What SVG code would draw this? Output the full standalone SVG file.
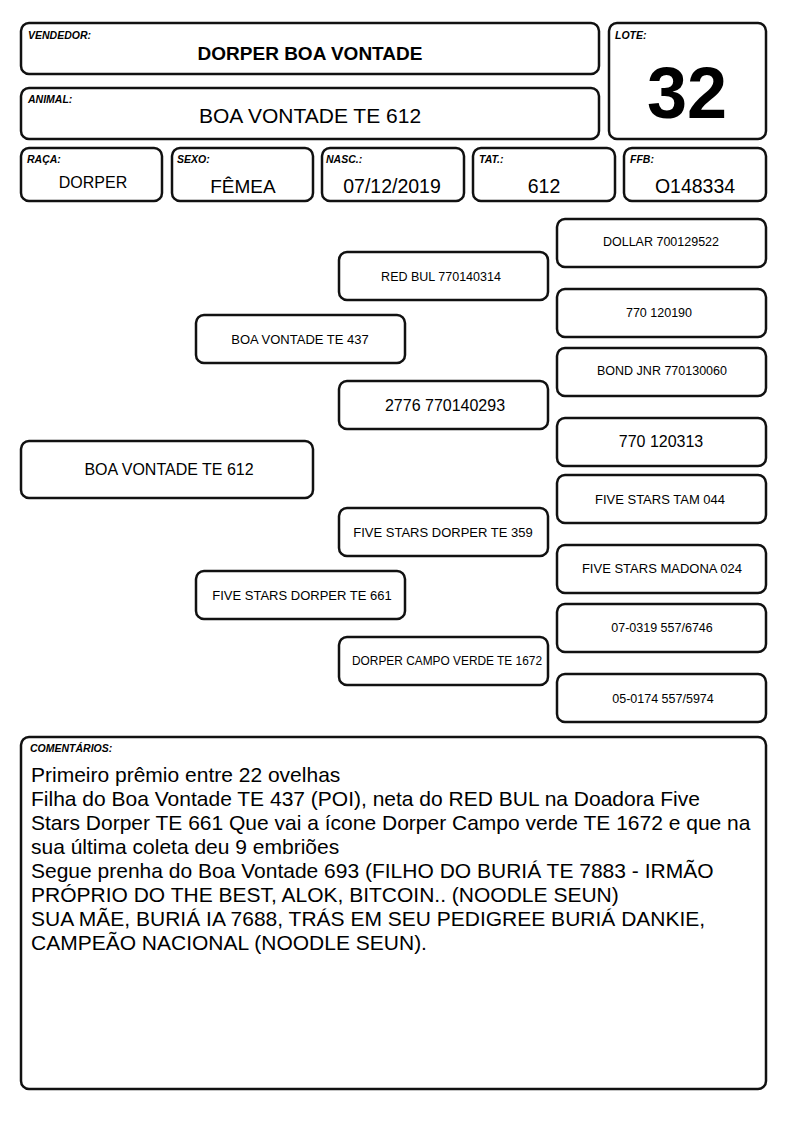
<svg xmlns="http://www.w3.org/2000/svg" width="794" height="1123" viewBox="0 0 794 1123">
<style>
.b{fill:#fff;stroke:#111;stroke-width:2.5}
text{font-family:"Liberation Sans",Arial,sans-serif;fill:#000}
.l{font-size:10.5px;font-weight:bold;font-style:italic}
.c{text-anchor:middle}
.cm{font-size:21px}
</style>
<rect width="794" height="1123" fill="#fff"/>
<g id="vendedor"><rect class="b" x="21" y="23" width="578" height="51" rx="8"/><text class="l" x="28" y="39">VENDEDOR:</text><text class="c" x="310" y="60" font-size="19" font-weight="bold">DORPER BOA VONTADE</text></g>
<g id="animal"><rect class="b" x="21" y="88" width="578" height="51" rx="8"/><text class="l" x="28" y="103">ANIMAL:</text><text class="c" x="310" y="123" font-size="21">BOA VONTADE TE 612</text></g>
<g id="lote"><rect class="b" x="609" y="23" width="157" height="116" rx="8"/><text class="l" x="615" y="39">LOTE:</text><text class="c" x="687" y="118" font-size="72" font-weight="bold">32</text></g>
<g id="raca"><rect class="b" x="21" y="148" width="141" height="53" rx="8"/><text class="l" x="27" y="163">RAÇA:</text><text class="c" x="93" y="188" font-size="16">DORPER</text></g>
<g id="sexo"><rect class="b" x="172" y="148" width="141" height="53" rx="8"/><text class="l" x="177" y="163">SEXO:</text><text class="c" x="243" y="193" font-size="19">FÊMEA</text></g>
<g id="nasc"><rect class="b" x="322" y="148" width="142" height="53" rx="8"/><text class="l" x="326" y="163">NASC.:</text><text class="c" x="392" y="193" font-size="19.5">07/12/2019</text></g>
<g id="tat"><rect class="b" x="473" y="148" width="142" height="53" rx="8"/><text class="l" x="479" y="163">TAT.:</text><text class="c" x="544" y="193" font-size="19.5">612</text></g>
<g id="ffb"><rect class="b" x="624" y="148" width="142" height="53" rx="8"/><text class="l" x="630" y="163">FFB:</text><text class="c" x="695" y="193" font-size="19.5">O148334</text></g>
<g id="connectors"></g>
<g id="n612"><rect class="b" x="21" y="441" width="292" height="57" rx="8"/><text class="c" x="169" y="475" font-size="16">BOA VONTADE TE 612</text></g>
<g id="n437"><rect class="b" x="196" y="315" width="209" height="48" rx="8"/><text class="c" x="300" y="344" font-size="13">BOA VONTADE TE 437</text></g>
<g id="n661"><rect class="b" x="196" y="571" width="209" height="48" rx="8"/><text class="c" x="302" y="600" font-size="13">FIVE STARS DORPER TE 661</text></g>
<g id="nredbul"><rect class="b" x="339" y="252" width="209" height="48" rx="8"/><text class="c" x="441" y="281" font-size="12.5">RED BUL 770140314</text></g>
<g id="n2776"><rect class="b" x="339" y="381" width="209" height="48" rx="8"/><text class="c" x="445" y="411" font-size="16">2776 770140293</text></g>
<g id="n359"><rect class="b" x="339" y="508" width="209" height="48" rx="8"/><text class="c" x="443" y="537" font-size="13">FIVE STARS DORPER TE 359</text></g>
<g id="n1672"><rect class="b" x="339" y="637" width="209" height="48" rx="8"/><text class="c" x="447" y="665" font-size="13" textLength="190" lengthAdjust="spacingAndGlyphs">DORPER CAMPO VERDE TE 1672</text></g>
<g id="ndollar"><rect class="b" x="557" y="219" width="209" height="48" rx="8"/><text class="c" x="661" y="246" font-size="12.5">DOLLAR 700129522</text></g>
<g id="n120190"><rect class="b" x="557" y="289" width="209" height="48" rx="8"/><text class="c" x="659" y="317" font-size="12.5">770 120190</text></g>
<g id="nbond"><rect class="b" x="557" y="348" width="209" height="48" rx="8"/><text class="c" x="662" y="375" font-size="12.5">BOND JNR 770130060</text></g>
<g id="n120313"><rect class="b" x="557" y="418" width="209" height="48" rx="8"/><text class="c" x="661" y="447" font-size="16">770 120313</text></g>
<g id="ntam"><rect class="b" x="557" y="475" width="209" height="48" rx="8"/><text class="c" x="660" y="504" font-size="13">FIVE STARS TAM 044</text></g>
<g id="nmadona"><rect class="b" x="557" y="545" width="209" height="48" rx="8"/><text class="c" x="662" y="573" font-size="13">FIVE STARS MADONA 024</text></g>
<g id="n0319"><rect class="b" x="557" y="604" width="209" height="48" rx="8"/><text class="c" x="662" y="632" font-size="12.5">07-0319 557/6746</text></g>
<g id="n0174"><rect class="b" x="557" y="674" width="209" height="48" rx="8"/><text class="c" x="663" y="703" font-size="12.5">05-0174 557/5974</text></g>
<g id="comentarios"><rect class="b" x="21" y="737" width="745" height="352" rx="8"/><text class="l" x="30" y="752" font-size="11">COMENTÁRIOS:</text>
<text class="cm" x="31" y="782">Primeiro prêmio entre 22 ovelhas</text>
<text class="cm" x="31" y="806">Filha do Boa Vontade TE 437 (POI), neta do RED BUL na Doadora Five</text>
<text class="cm" x="31" y="830">Stars Dorper TE 661 Que vai a ícone Dorper Campo verde TE 1672 e que na</text>
<text class="cm" x="31" y="854">sua última coleta deu 9 embriões</text>
<text class="cm" x="31" y="878">Segue prenha do Boa Vontade 693 (FILHO DO BURIÁ TE 7883 - IRMÃO</text>
<text class="cm" x="31" y="902">PRÓPRIO DO THE BEST, ALOK, BITCOIN.. (NOODLE SEUN)</text>
<text class="cm" x="31" y="926">SUA MÃE, BURIÁ IA 7688, TRÁS EM SEU PEDIGREE BURIÁ DANKIE,</text>
<text class="cm" x="31" y="950">CAMPEÃO NACIONAL (NOODLE SEUN).</text>
</g>
</svg>
